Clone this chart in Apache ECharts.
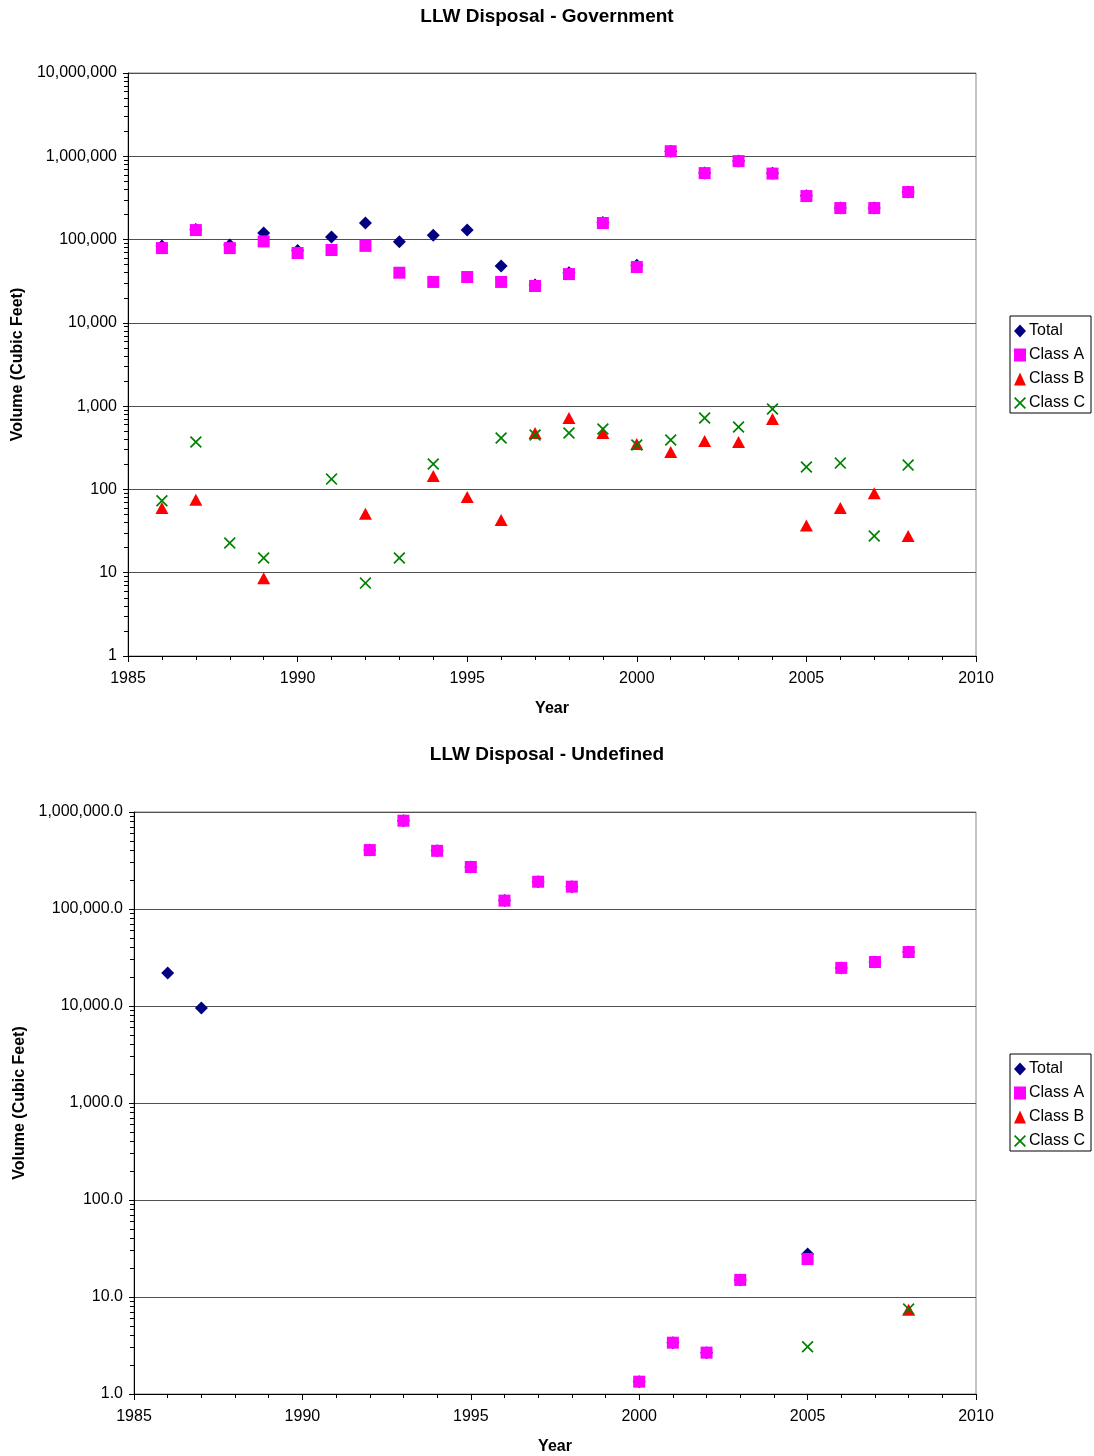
<!DOCTYPE html>
<html lang="en" style="height: 100%;width: 100%">
<head>
    <meta charset="utf-8">
</head>
<body style="height: 100%;width: 100%; margin: 0; background: #fff">
<div id="container" style="width: 1094px; height: 1456px;"></div>

<script type="text/javascript" src="https://cdn.jsdelivr.net/npm/echarts@6/dist/echarts.min.js"></script>
<script type="text/javascript">
// years on the x axis
var years = [1986, 1987, 1988, 1989, 1990, 1991, 1992, 1993, 1994, 1995, 1996, 1997,
             1998, 1999, 2000, 2001, 2002, 2003, 2004, 2005, 2006, 2007, 2008];

// LLW Disposal - Government (cubic feet)
var govTotal = [84000, 132000, 86000, 120000, 74000, 107000, 158000, 94000, 113000, 130000, 48000, 28500,
                40000, 160000, 49000, 1150000, 630000, 880000, 625000, 335000, 240000, 240000, 373000];
var govClassA = [79000, 130000, 79000, 95000, 69000, 75000, 84000, 40000, 31000, 35500, 31000, 27700,
                 38500, 158000, 46800, 1150000, 628000, 875000, 620000, 333000, 239000, 239000, 372000];
var govClassB = [60, 75, null, 8.6, null, null, 51, null, 145, 81, 43, 475,
                 720, 475, 350, 281, 381, 371, 700, 37, 60, 90, 27.6];
var govClassC = [73, 371, 22.7, 15, null, 133, 7.5, 15, 202, null, 414, 450,
                 475, 531, 341, 392, 720, 561, 923, 186, 207, 27.6, 196];

// LLW Disposal - Undefined (cubic feet)
var undTotal = [21900, 9530, null, null, null, null, 405000, 813000, 398000, 271000, 122000, 191000,
                170000, null, 1.34, 3.38, 2.67, 15, null, 27.7, 24700, 28400, 36000];
var undClassA = [null, null, null, null, null, null, 405000, 813000, 398000, 271000, 122000, 191000,
                 170000, null, 1.34, 3.38, 2.67, 15, null, 24.6, 24700, 28400, 36000];
var undClassB = [null, null, null, null, null, null, null, null, null, null, null, null,
                 null, null, null, null, null, null, null, null, null, null, 7.4];
var undClassC = [null, null, null, null, null, null, null, null, null, null, null, null,
                 null, null, null, null, null, null, null, 3.07, null, null, 7.5];

var seriesNames = ['Total', 'Class A', 'Class B', 'Class C'];
var colors = ['#000080', '#FF00FF', '#FF0000', '#008000'];
var symbols = ['diamond', 'rect', 'triangle',
    'path://M0,1L1,0L5,4L9,0L10,1L6,5L10,9L9,10L5,6L1,10L0,9L4,5Z'];
var symbolSizes = [13, 12, [13, 12], 12];

var FONT = '"Liberation Sans", Arial, sans-serif';

function pairs(vals) {
    var out = [];
    for (var i = 0; i < years.length; i++) {
        if (vals[i] != null) out.push([years[i], vals[i]]);
    }
    return out;
}

// log-spaced minor ticks (2..9 in each decade), in log10 units
function minorLogTicks(decades) {
    var t = [];
    for (var n = 0; n < decades; n++) {
        for (var k = 2; k <= 9; k++) t.push(n + Math.log10(k));
    }
    return t;
}

function xAxisFor(gridIndex) {
    return {
        gridIndex: gridIndex,
        type: 'value',
        min: 1985,
        max: 2010,
        interval: 5,
        name: 'Year',
        nameLocation: 'middle',
        nameGap: 45,
        nameTextStyle: {fontFamily: FONT, fontSize: 16, fontWeight: 'bold', color: '#000'},
        axisLine: {show: true, onZero: false, lineStyle: {color: '#000', width: 1}},
        axisTick: {show: true, length: 6, lineStyle: {color: '#000'}},
        minorTick: {show: true, splitNumber: 5, length: 4, lineStyle: {color: '#000'}},
        splitLine: {show: false},
        axisLabel: {
            fontFamily: FONT, fontSize: 16, color: '#000', margin: 15,
            formatter: function (v) { return String(v); }
        }
    };
}

function yAxisFor(gridIndex, maxVal, nameGap, labelFmt) {
    return {
        gridIndex: gridIndex,
        type: 'log',
        logBase: 10,
        min: 1,
        max: maxVal,
        position: 'left',
        name: 'Volume (Cubic Feet)',
        nameLocation: 'middle',
        nameGap: nameGap,
        nameTextStyle: {fontFamily: FONT, fontSize: 16, fontWeight: 'bold', color: '#000'},
        axisLine: {show: true, onZero: false, lineStyle: {color: '#000', width: 1}},
        axisTick: {show: true, length: 5, lineStyle: {color: '#000'}},
        splitLine: {show: true, lineStyle: {color: '#505050', width: 1}},
        axisLabel: {fontFamily: FONT, fontSize: 16, color: '#000', margin: 11, formatter: labelFmt}
    };
}

function minorAxisFor(gridIndex, decades) {
    return {
        gridIndex: gridIndex,
        type: 'value',
        min: 0,
        max: decades,
        position: 'left',
        axisLine: {show: false},
        splitLine: {show: false},
        axisLabel: {show: false},
        axisTick: {show: true, length: 4, customValues: minorLogTicks(decades), lineStyle: {color: '#000'}}
    };
}

function legendFor(top) {
    return {
        orient: 'vertical',
        left: 1010,
        top: top,
        width: 83,
        data: seriesNames,
        itemWidth: 12,
        itemHeight: 13,
        itemGap: 6,
        padding: [6, 6, 1, 4],
        borderColor: '#000',
        borderWidth: 1,
        textStyle: {fontFamily: FONT, fontSize: 16, color: '#000', lineHeight: 18, padding: [0, 0, 0, -2]}
    };
}

var lists = [
    [govTotal, govClassA, govClassB, govClassC],
    [undTotal, undClassA, undClassB, undClassC]
];

var series = [];
for (var g = 0; g < 2; g++) {
    for (var s = 0; s < 4; s++) {
        series.push({
            name: seriesNames[s],
            type: 'scatter',
            xAxisIndex: g,
            yAxisIndex: g * 2,
            symbol: symbols[s],
            symbolSize: symbolSizes[s],
            itemStyle: {color: colors[s], opacity: 1},
            emphasis: {disabled: true},
            data: pairs(lists[g][s])
        });
    }
}

var myChart = echarts.init(document.getElementById('container'), null, {renderer: 'canvas'});

var option = {
    backgroundColor: '#fff',
    animation: false,
    title: [
        {text: 'LLW Disposal - Government', left: 'center', top: 2,
         textStyle: {fontFamily: FONT, fontSize: 19, fontWeight: 'bold', color: '#000'}},
        {text: 'LLW Disposal - Undefined', left: 'center', top: 740,
         textStyle: {fontFamily: FONT, fontSize: 19, fontWeight: 'bold', color: '#000'}}
    ],
    legend: [legendFor(316), legendFor(1054)],
    grid: [
        {left: 128, top: 73, width: 848, height: 583, show: true, borderColor: '#888', borderWidth: 1, backgroundColor: '#fff'},
        {left: 134, top: 812, width: 842, height: 582, show: true, borderColor: '#888', borderWidth: 1, backgroundColor: '#fff'}
    ],
    xAxis: [xAxisFor(0), xAxisFor(1)],
    yAxis: [
        yAxisFor(0, 10000000, 100, function (v) { return Number(v).toLocaleString('en-US'); }),
        minorAxisFor(0, 7),
        yAxisFor(1, 1000000, 106, function (v) {
            return Number(v).toLocaleString('en-US', {minimumFractionDigits: 1, maximumFractionDigits: 1});
        }),
        minorAxisFor(1, 6)
    ],
    series: series
};
myChart.setOption(option);
</script>
</body>
</html>
